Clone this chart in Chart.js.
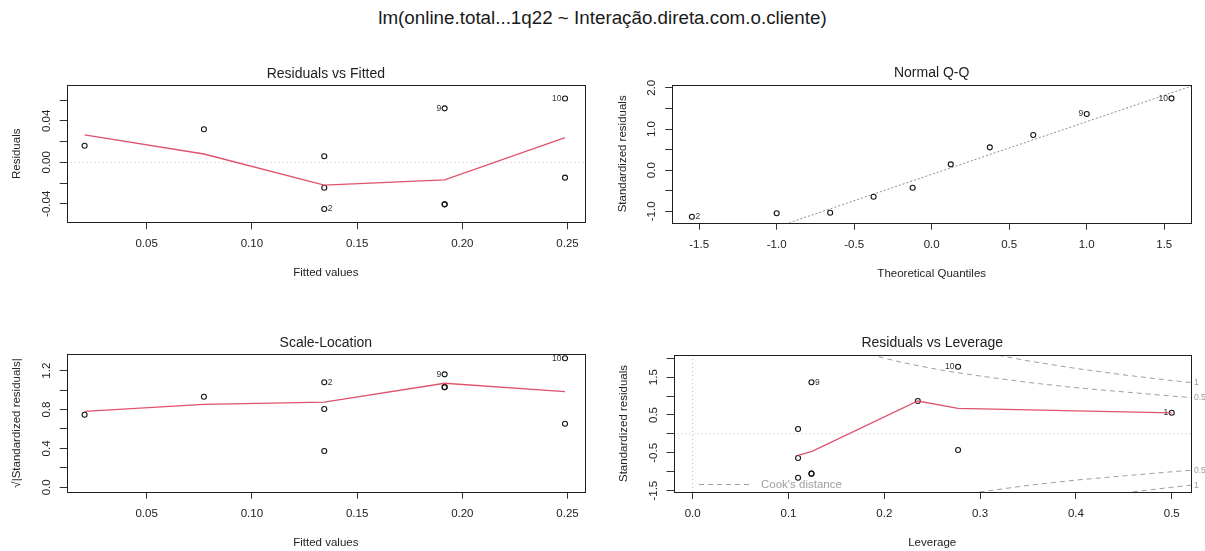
<!DOCTYPE html>
<html>
<head>
<meta charset="utf-8">
<script src="https://cdn.jsdelivr.net/npm/chart.js@4.4.1/dist/chart.umd.min.js"></script>
<style>
html,body{margin:0;padding:0;background:#fff;overflow:hidden;width:1205px;height:551px;}
canvas{position:absolute;}
#mainTitle{position:absolute;left:0;top:8px;width:1205px;text-align:center;font-size:18.8px;line-height:20px;font-family:"Liberation Sans",Arial,Helvetica,sans-serif;color:#1a1a1a;}
</style>
</head>
<body>
<div id="mainTitle"></div>
<canvas id="c1" width="602" height="270" style="left:0;top:40px"></canvas>
<canvas id="c2" width="603" height="270" style="left:602px;top:40px"></canvas>
<canvas id="c3" width="602" height="241" style="left:0;top:310px"></canvas>
<canvas id="c4" width="603" height="241" style="left:602px;top:310px"></canvas>
<script>
// ---------------- data ----------------
const mainTitle = "lm(online.total...1q22 ~ Interação.direta.com.o.cliente)";
const panelTitles = ["Residuals vs Fitted", "Normal Q-Q", "Scale-Location", "Residuals vs Leverage"];
const xTitles = ["Fitted values", "Theoretical Quantiles", "Fitted values", "Leverage"];
const yTitles = ["Residuals", "Standardized residuals", "√|Standardized residuals|", "Standardized residuals"];

// per observation (1..10)
const fittedValues = [0.0205, 0.1344, 0.1344, 0.1344, 0.0772, 0.1916, 0.1916, 0.2488, 0.1916, 0.2488];
const residuals    = [0.0160, -0.0450, 0.0058, -0.0245, 0.0318, -0.0405, -0.0405, -0.0148, 0.0520, 0.0615];
const residLabels  = ["", "2", "", "", "", "", "", "", "9", "10"];
const sqrtAbsStdResid = [0.747, 1.080, 0.373, 0.806, 0.932, 1.030, 1.030, 0.654, 1.162, 1.327];
const scaleLocLabels  = ["", "2", "", "", "", "", "", "", "9", "10"];
const leverage     = [0.500, 0.110, 0.110, 0.110, 0.235, 0.124, 0.124, 0.277, 0.124, 0.277];
const stdResidLev  = [0.560, -1.157, 0.129, -0.637, 0.869, -1.050, -1.050, -0.425, 1.363, 1.775];
const levLabels    = ["1", "", "", "", "", "", "", "", "9", "10"];

// Normal Q-Q (sorted)
const qqTheoretical = [-1.547, -1.000, -0.655, -0.375, -0.123, 0.123, 0.375, 0.655, 1.000, 1.547];
const qqSample      = [-1.130, -1.047, -1.032, -0.644, -0.425, 0.143, 0.556, 0.855, 1.365, 1.746];
const qqLabels      = ["2", "", "", "", "", "", "", "", "9", "10"];
const qqLineX = [-1.8, 1.8];
const qqLineY = [-2.404, 2.204];

// red smoothers
const residSmoothX = [0.0205, 0.0772, 0.1344, 0.1916, 0.2488];
const residSmoothY = [0.0265, 0.0080, -0.0219, -0.0170, 0.0237];
const slSmoothY    = [0.782, 0.854, 0.877, 1.070, 0.984];
const levSmoothX   = [0.110, 0.124, 0.235, 0.277, 0.500];
const levSmoothY   = [-0.565, -0.470, 0.869, 0.676, 0.555];

// Cook's distance contours
const cookHalfUpperH = [0.185, 0.20, 0.22, 0.25, 0.27, 0.30, 0.35, 0.40, 0.45, 0.50, 0.53];
const cookHalfUpperR = [2.10, 2.00, 1.88, 1.73, 1.64, 1.53, 1.36, 1.22, 1.11, 1.00, 0.94];
const cookOneUpperH  = [0.31, 0.35, 0.40, 0.45, 0.50, 0.53];
const cookOneUpperR  = [2.12, 1.93, 1.73, 1.56, 1.41, 1.33];
const cookHalfLowerH = [0.29, 0.35, 0.40, 0.45, 0.50, 0.53];
const cookHalfLowerR = [-1.57, -1.36, -1.22, -1.11, -1.00, -0.94];
const cookOneLowerH  = [0.45, 0.50, 0.53];
const cookOneLowerR  = [-1.56, -1.41, -1.33];
const cookLabelText  = ["1", "0.5", "0.5", "1"];
const cookLabelR     = [1.36, 0.96, -0.96, -1.36];
const cookLegendText = "Cook's distance";

// axis ranges and ticks
const x1Range = [0.0120, 0.2583], y1Range = [-0.0578, 0.0742];
const x2Range = [-1.674, 1.674],  y2Range = [-1.275, 2.070];
const x3Range = [0.0120, 0.2583], y3Range = [-0.045, 1.368];
const x4Range = [-0.02, 0.52],    y4Range = [-1.535, 2.085];

const x1Ticks = [0.05, 0.10, 0.15, 0.20, 0.25];
const x1TickLabels = ["0.05", "0.10", "0.15", "0.20", "0.25"];
const y1Ticks = [-0.04, -0.02, 0, 0.02, 0.04, 0.06];
const y1TickLabels = ["-0.04", "", "0.00", "", "0.04", ""];
const x2Ticks = [-1.5, -1, -0.5, 0, 0.5, 1, 1.5];
const x2TickLabels = ["-1.5", "-1.0", "-0.5", "0.0", "0.5", "1.0", "1.5"];
const y2Ticks = [-1, -0.5, 0, 0.5, 1, 1.5, 2];
const y2TickLabels = ["-1.0", "", "0.0", "", "1.0", "", "2.0"];
const y3Ticks = [0, 0.2, 0.4, 0.6, 0.8, 1.0, 1.2];
const y3TickLabels = ["0.0", "", "0.4", "", "0.8", "", "1.2"];
const x4Ticks = [0, 0.1, 0.2, 0.3, 0.4, 0.5];
const x4TickLabels = ["0.0", "0.1", "0.2", "0.3", "0.4", "0.5"];
const y4Ticks = [-1.5, -1, -0.5, 0, 0.5, 1, 1.5, 2];
const y4TickLabels = ["-1.5", "", "-0.5", "", "0.5", "", "1.5", ""];

// ---------------- styling / helpers ----------------
const FONT = '"Liberation Sans", Arial, Helvetica, sans-serif';
const TXT = '#222';
const RED = '#DF536B';
const COOK = '#9E9E9E';
Chart.defaults.font.family = FONT;
Chart.defaults.color = TXT;
document.getElementById('mainTitle').textContent = mainTitle;

function pts(xs, ys) { return xs.map((x, i) => ({x: x, y: ys[i]})); }

function pointDs(xs, ys) {
  return { data: pts(xs, ys), showLine: false, pointStyle: 'circle', pointRadius: 2.5,
    pointBorderWidth: 1.1, pointBorderColor: '#141414', pointBackgroundColor: 'rgba(0,0,0,0)', order: 1 };
}
function lineDs(xs, ys, color, width, dash, order) {
  return { data: pts(xs, ys), showLine: true, borderColor: color, borderWidth: width,
    borderDash: dash, pointRadius: 0, tension: 0, fill: false, order: order };
}

function xAxis(range, ticks, labels, title, xH) {
  return {
    type: 'linear', position: 'bottom', min: range[0], max: range[1],
    afterBuildTicks: s => { s.ticks = ticks.map(v => ({value: v})); },
    afterFit: s => { s.height = xH; },
    ticks: { autoSkip: false, maxRotation: 0, minRotation: 0, padding: 8.1, color: TXT,
      font: {family: FONT, size: 11.5}, callback: (v, i) => labels[i] },
    grid: { display: true, drawOnChartArea: false, drawTicks: true, tickLength: 7, tickColor: '#333', tickWidth: 1 },
    border: { display: false },
    title: { display: true, text: title, color: TXT, font: {family: FONT, size: 11.5},
      padding: {top: 0, bottom: xH - 57.7} }
  };
}
function yAxis(range, ticks, title, yW) {
  return {
    type: 'linear', position: 'left', min: range[0], max: range[1],
    afterBuildTicks: s => { s.ticks = ticks.map(v => ({value: v})); },
    afterFit: s => { s.width = yW; },
    ticks: { display: false },
    grid: { display: true, drawOnChartArea: false, drawTicks: true, tickLength: 7, tickColor: '#333', tickWidth: 1 },
    border: { display: false },
    title: { display: true, text: title, color: TXT, font: {family: FONT, size: 11.5},
      padding: {top: yW - 49.5 - 6.9, bottom: 0} }
  };
}

function decor(p) {
  return {
    id: 'decor' + p.key,
    afterDatasetsDraw(chart) {
      const ctx = chart.ctx, a = chart.chartArea;
      const xs = chart.scales.x, ys = chart.scales.y;
      ctx.save();
      // box
      ctx.setLineDash([]);
      ctx.lineWidth = 1; ctx.strokeStyle = '#1e1e1e';
      const L = Math.round(a.left) + 0.5, T = Math.round(a.top) + 0.5;
      const R = Math.round(a.right) + 0.5, B = Math.round(a.bottom) + 0.5;
      ctx.strokeRect(L, T, R - L, B - T);
      // rotated y tick labels (R style)
      ctx.fillStyle = TXT; ctx.font = '11.5px ' + FONT;
      ctx.textAlign = 'center'; ctx.textBaseline = 'middle';
      p.yTicks.forEach((v, i) => {
        const t = p.yLabels[i]; if (!t) return;
        const y = ys.getPixelForValue(v);
        ctx.save(); ctx.translate(a.left - 20, y); ctx.rotate(-Math.PI / 2); ctx.fillText(t, 0, 0); ctx.restore();
      });
      // panel title
      ctx.font = '14px ' + FONT; ctx.fillStyle = TXT;
      ctx.fillText(p.title, (a.left + a.right) / 2, a.top - 11.5);
      // point id labels
      const meta = chart.getDatasetMeta(0);
      const data = chart.data.datasets[0].data;
      const mid = (xs.min + xs.max) / 2;
      ctx.font = '8.5px ' + FONT; ctx.fillStyle = '#333'; ctx.textBaseline = 'middle';
      p.ids.forEach((t, i) => {
        if (!t) return;
        const el = meta.data[i];
        const right = data[i].x <= mid;
        ctx.textAlign = right ? 'left' : 'right';
        ctx.fillText(t, el.x + (right ? 3.5 : -3.5), el.y);
      });
      // Cook's distance decorations
      if (p.cook) {
        ctx.fillStyle = COOK; ctx.font = '8.5px ' + FONT; ctx.textAlign = 'left';
        cookLabelText.forEach((t, i) => {
          ctx.fillText(t, a.right + 3, ys.getPixelForValue(cookLabelR[i]));
        });
        // legend
        const ly = a.bottom - 8;
        ctx.strokeStyle = COOK; ctx.lineWidth = 1; ctx.setLineDash([5, 4]);
        ctx.beginPath(); ctx.moveTo(a.left + 25.5, ly + 0.5); ctx.lineTo(a.left + 79.5, ly + 0.5); ctx.stroke();
        ctx.setLineDash([]);
        ctx.font = '11.5px ' + FONT; ctx.fillStyle = COOK; ctx.textAlign = 'left';
        ctx.fillText(cookLegendText, a.left + 87.5, ly + 1);
      }
      ctx.restore();
    }
  };
}

function build(id, box, xRange, yRange, xTicks, xLabels, yTicks, yLabels, idx, datasets, ids, cook) {
  const c = document.getElementById(id);
  const W = c.width, H = c.height;
  const yW = box.left, padTop = box.top, padRight = W - box.right, xH = H - box.bottom;
  return new Chart(c, {
    type: 'scatter',
    data: { datasets: datasets },
    options: {
      responsive: false, animation: false, events: [],
      layout: { autoPadding: false, padding: {left: 0, top: padTop, right: padRight, bottom: 0} },
      plugins: { legend: {display: false}, tooltip: {enabled: false}, title: {display: false} },
      scales: {
        x: xAxis(xRange, xTicks, xLabels, xTitles[idx], xH),
        y: yAxis(yRange, yTicks, yTitles[idx], yW)
      }
    },
    plugins: [decor({key: idx, title: panelTitles[idx], yTicks: yTicks, yLabels: yLabels, ids: ids, cook: cook})]
  });
}

// ---------------- panels ----------------
build('c1', {left: 66.7, top: 45.3, right: 585, bottom: 182.3}, x1Range, y1Range,
  x1Ticks, x1TickLabels, y1Ticks, y1TickLabels, 0, [
    pointDs(fittedValues, residuals),
    lineDs(residSmoothX, residSmoothY, RED, 1.3, [], 0),
    lineDs(x1Range, [0, 0], '#bdbdbd', 1, [1, 3], 2)
  ], residLabels, false);

build('c2', {left: 70.2, top: 45, right: 589.2, bottom: 182.7}, x2Range, y2Range,
  x2Ticks, x2TickLabels, y2Ticks, y2TickLabels, 1, [
    pointDs(qqTheoretical, qqSample),
    lineDs(qqLineX, qqLineY, '#8c8c8c', 1, [2, 2], 2)
  ], qqLabels, false);

build('c3', {left: 66.7, top: 44.3, right: 585, bottom: 181.7}, x3Range, y3Range,
  x1Ticks, x1TickLabels, y3Ticks, y3TickLabels, 2, [
    pointDs(fittedValues, sqrtAbsStdResid),
    lineDs(residSmoothX, slSmoothY, RED, 1.3, [], 0)
  ], scaleLocLabels, false);

build('c4', {left: 71.5, top: 45, right: 588.9, bottom: 182}, x4Range, y4Range,
  x4Ticks, x4TickLabels, y4Ticks, y4TickLabels, 3, [
    pointDs(leverage, stdResidLev),
    lineDs(levSmoothX, levSmoothY, RED, 1.3, [], 0),
    lineDs(x4Range, [0, 0], '#bdbdbd', 1, [1, 3], 2),
    lineDs([0, 0], y4Range, '#bdbdbd', 1, [1, 3], 2),
    lineDs(cookHalfUpperH, cookHalfUpperR, COOK, 1, [5, 4], 3),
    lineDs(cookOneUpperH, cookOneUpperR, COOK, 1, [5, 4], 3),
    lineDs(cookHalfLowerH, cookHalfLowerR, COOK, 1, [5, 4], 3),
    lineDs(cookOneLowerH, cookOneLowerR, COOK, 1, [5, 4], 3)
  ], levLabels, true);
</script>
</body>
</html>
